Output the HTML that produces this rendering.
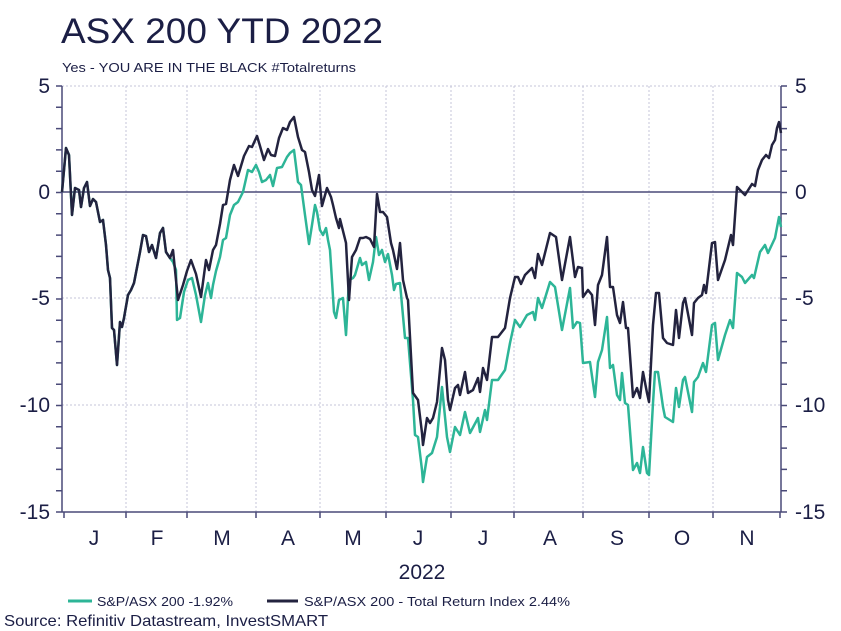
<!DOCTYPE html>
<html><head><meta charset="utf-8"><style>
body{margin:0;background:#fff;}
svg{display:block;font-family:"Liberation Sans",sans-serif;}
</style></head><body>
<svg width="841" height="631" viewBox="0 0 841 631" xmlns="http://www.w3.org/2000/svg">
<rect width="841" height="631" fill="#fff"/>
<text x="61" y="43" font-size="35" fill="#1b1e45" textLength="322" lengthAdjust="spacingAndGlyphs">ASX 200 YTD 2022</text>
<text x="62" y="72" font-size="13" fill="#1b1e45" textLength="294" lengthAdjust="spacingAndGlyphs">Yes - YOU ARE IN THE BLACK #Totalreturns</text>
<g stroke="#c4c4d8" stroke-width="1" stroke-dasharray="2,2" fill="none">
<line x1="62" y1="86" x2="781" y2="86"/><line x1="62" y1="298" x2="781" y2="298"/><line x1="62" y1="405" x2="781" y2="405"/>
<line x1="126" y1="86" x2="126" y2="512"/><line x1="187" y1="86" x2="187" y2="512"/><line x1="256" y1="86" x2="256" y2="512"/><line x1="320" y1="86" x2="320" y2="512"/><line x1="386" y1="86" x2="386" y2="512"/><line x1="451" y1="86" x2="451" y2="512"/><line x1="514" y1="86" x2="514" y2="512"/><line x1="583" y1="86" x2="583" y2="512"/><line x1="649" y1="86" x2="649" y2="512"/><line x1="713" y1="86" x2="713" y2="512"/>
</g>
<g stroke="#4a4a78" stroke-width="1.5" fill="none">
<line x1="62" y1="86" x2="62" y2="512"/><line x1="781" y1="86" x2="781" y2="512"/>
<line x1="62" y1="512" x2="781" y2="512"/><line x1="62" y1="192" x2="781" y2="192"/>
<path d="M56 86H62M56 107.3H62M56 128.6H62M56 149.9H62M56 171.2H62M56 192.5H62M56 213.8H62M56 235.1H62M56 256.4H62M56 277.7H62M56 299H62M56 320.3H62M56 341.6H62M56 362.9H62M56 384.2H62M56 405.5H62M56 426.8H62M56 448.1H62M56 469.4H62M56 490.7H62M56 512H62"/>
<path d="M781 86H787M781 107.3H787M781 128.6H787M781 149.9H787M781 171.2H787M781 192.5H787M781 213.8H787M781 235.1H787M781 256.4H787M781 277.7H787M781 299H787M781 320.3H787M781 341.6H787M781 362.9H787M781 384.2H787M781 405.5H787M781 426.8H787M781 448.1H787M781 469.4H787M781 490.7H787M781 512H787"/>
<path d="M64 512V518M126 512V518M187 512V518M256 512V518M320 512V518M386 512V518M451 512V518M514 512V518M583 512V518M649 512V518M713 512V518M780 512V518"/>
</g>
<g font-size="21" fill="#1b1e45">
<text x="50" y="93" text-anchor="end">5</text><text x="50" y="199" text-anchor="end">0</text><text x="50" y="305" text-anchor="end">-5</text><text x="50" y="412" text-anchor="end">-10</text><text x="50" y="519" text-anchor="end">-15</text>
<text x="795" y="93">5</text><text x="795" y="199">0</text><text x="795" y="305">-5</text><text x="795" y="412">-10</text><text x="795" y="519">-15</text>
</g>
<g font-size="21" fill="#1b1e45" text-anchor="middle">
<text x="94" y="545">J</text><text x="157" y="545">F</text><text x="222" y="545">M</text><text x="288" y="545">A</text><text x="353" y="545">M</text><text x="418" y="545">J</text><text x="483" y="545">J</text><text x="550" y="545">A</text><text x="617" y="545">S</text><text x="682" y="545">O</text><text x="747" y="545">N</text>
<text x="422" y="579">2022</text>
</g>
<polyline fill="none" stroke="#2db597" stroke-width="2.5" stroke-linejoin="round" points="62,192 66,148 69,155 72,215 75,188 79,190 81,207 84,188 87,182 90,206 93,199 96,202 100,222 103,220 106,245 108,270 110,278 112,328 114,330 117,365 120,322 122,327 124,318 128,295 131,290 134,283 140,252 143,235 146,236 149,252 152,245 156,258 160,233 163,228 166,252 170,258 173,262 176,270 177,320 180,318 184,292 188,280 192,278 196,295 201,322 205,295 208,283 211,298 213,285 216,271 220,257 223,240 226,238 230,215 234,205 238,202 243,192 248,170 252,172 256,165 259,172 262,182 266,180 270,175 273,186 277,168 282,167 287,157 290,153 294,150 298,182 301,185 305,215 309,244 312,225 315,205 317,212 320,230 323,235 326,228 328,240 330,250 334,312 336,318 339,300 343,298 346,335 349,280 353,278 355,275 360,258 362,265 366,262 369,280 373,262 376,237 379,255 382,250 385,262 388,254 392,275 394,290 396,284 400,283 405,338 408,338 413,400 415,435 418,437 422,470 423,482 427,457 432,453 437,437 442,387 447,437 450,452 455,427 460,435 465,412 470,433 478,418 480,432 485,410 487,420 492,380 498,380 505,370 510,343 515,320 520,327 527,315 533,312 535,320 538,298 542,308 550,282 555,287 562,330 570,288 573,328 577,322 580,323 583,363 590,362 595,397 598,362 602,350 607,317 610,368 613,365 617,395 620,400 622,373 625,403 628,405 633,470 637,463 640,473 643,447 647,473 649,475 653,403 655,372 658,372 663,407 665,417 673,422 676,388 679,407 683,380 685,377 692,412 694,382 698,377 703,363 706,372 712,325 715,323 718,360 725,335 730,320 733,328 737,273 742,277 745,283 752,275 754,278 760,252 765,245 768,253 775,238 779,217 781,227"/>
<polyline fill="none" stroke="#23233f" stroke-width="2.5" stroke-linejoin="round" points="62,192 66,148 69,155 72,215 75,188 79,190 81,207 84,188 87,182 90,206 93,199 96,202 100,222 103,220 106,245 108,270 110,278 112,328 114,330 117,365 120,322 122,327 124,318 128,295 131,290 134,283 140,252 143,235 146,236 149,252 152,245 156,258 160,233 163,228 166,252 170,258 173,250 175,270 178,300 183,285 187,271 191,260 196,274 201,297 206,260 209,270 213,250 216,245 220,224 223,205 226,204 230,180 234,165 238,176 244,156 249,146 252,147 257,136 260,146 264,160 268,149 271,155 275,156 279,138 283,128 287,130 290,122 294,117 298,137 302,150 305,152 309,172 312,190 315,196 319,175 322,206 327,188 331,197 333,205 336,218 339,228 340,219 346,243 349,300 352,257 356,250 360,238 363,238 366,237 370,239 374,247 377,194 380,212 383,212 387,217 391,243 393,250 397,269 400,243 403,280 407,298 408,300 413,393 418,400 422,433 423,445 427,418 430,423 433,418 437,402 442,348 445,360 448,400 450,410 455,388 458,385 460,395 465,372 468,393 473,390 478,378 480,392 483,368 487,380 492,337 498,337 505,328 510,298 515,277 518,277 521,284 525,275 532,268 535,278 538,254 542,265 550,233 556,237 562,280 570,237 575,277 578,267 582,268 583,297 588,290 592,295 595,325 598,285 602,275 607,237 610,287 613,287 617,315 620,323 623,302 626,328 628,328 633,397 637,388 640,398 643,372 647,393 649,402 653,325 656,293 659,293 663,338 667,343 673,345 676,310 679,338 683,303 685,298 692,335 694,303 698,298 702,295 704,285 706,293 712,243 715,242 718,280 725,260 731,235 733,245 737,187 745,195 752,184 755,186 758,170 762,160 766,155 769,158 772,145 775,140 777,128 779,122 781,133"/>
<line x1="68" y1="601" x2="92" y2="601" stroke="#2db597" stroke-width="3"/>
<text x="97" y="606" font-size="13" fill="#1b1e45" textLength="136" lengthAdjust="spacingAndGlyphs">S&amp;P/ASX 200 -1.92%</text>
<line x1="267" y1="601" x2="298" y2="601" stroke="#23233f" stroke-width="3"/>
<text x="304" y="606" font-size="13" fill="#1b1e45" textLength="266" lengthAdjust="spacingAndGlyphs">S&amp;P/ASX 200 - Total Return Index 2.44%</text>
<text x="4" y="626" font-size="16" fill="#1b1e45" textLength="324" lengthAdjust="spacingAndGlyphs">Source: Refinitiv Datastream, InvestSMART</text>
</svg>
</body></html>
